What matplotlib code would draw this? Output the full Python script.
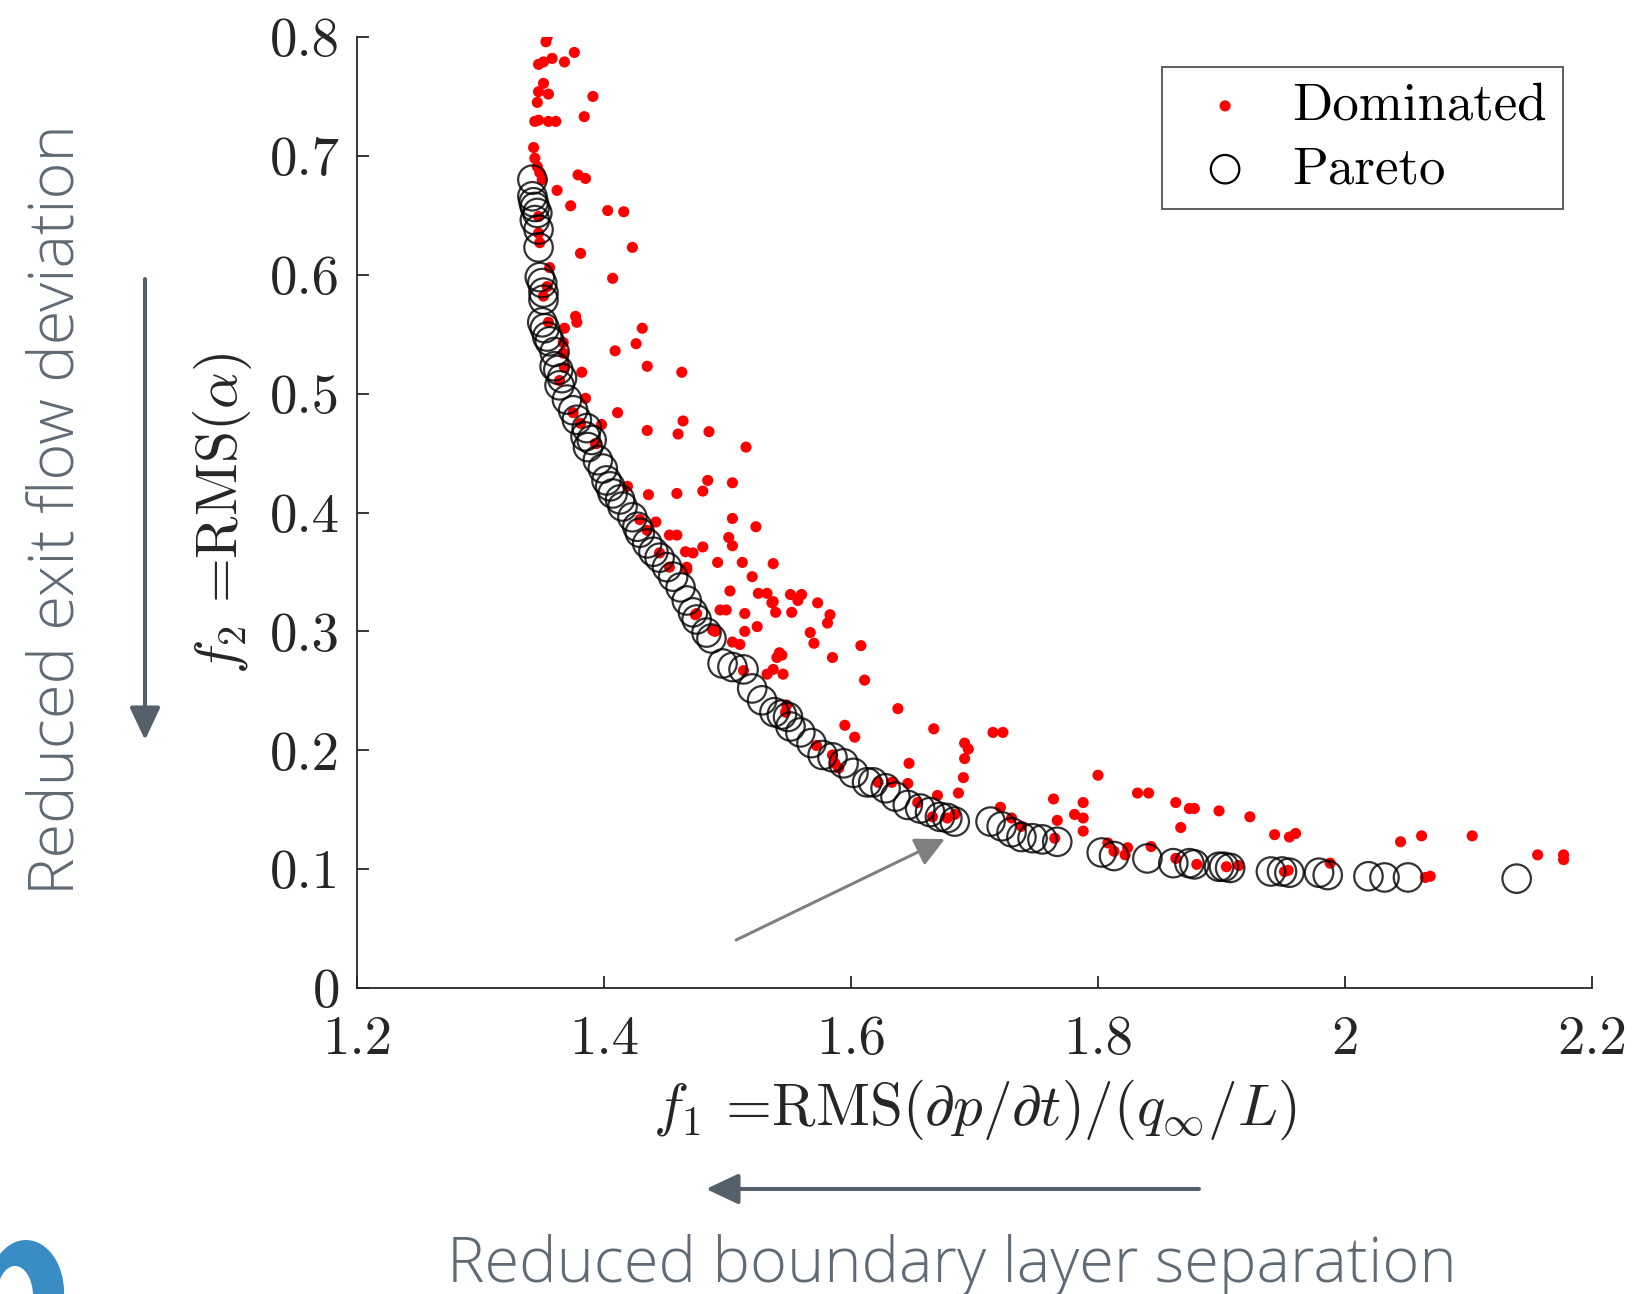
import matplotlib
matplotlib.use("Agg")
import matplotlib.pyplot as plt
from matplotlib.patches import Ellipse, FancyArrowPatch
from matplotlib.transforms import IdentityTransform

plt.rcParams['font.family'] = 'serif'
plt.rcParams['font.serif'] = ['cmr10']
plt.rcParams['mathtext.fontset'] = 'cm'
plt.rcParams['axes.formatter.use_mathtext'] = True
plt.rcParams['axes.unicode_minus'] = False

# ---------------- data ----------------
pareto_f1 = [1.342, 1.342, 1.343, 1.344, 1.346, 1.344, 1.347, 1.347, 1.348, 1.350, 1.351,
             1.351, 1.350, 1.352, 1.354, 1.356, 1.360, 1.360, 1.363, 1.366, 1.364, 1.370, 1.375,
             1.378, 1.386, 1.385, 1.390, 1.387, 1.395, 1.399, 1.402, 1.405, 1.407, 1.413, 1.415,
             1.423, 1.427, 1.429, 1.435, 1.440, 1.445, 1.451, 1.456, 1.462, 1.467, 1.472, 1.475,
             1.483, 1.487, 1.496, 1.504, 1.513, 1.520, 1.528, 1.538, 1.544, 1.549, 1.551, 1.559,
             1.568, 1.577, 1.585, 1.594, 1.602, 1.613, 1.618, 1.628, 1.636, 1.646, 1.656, 1.664,
             1.672, 1.678, 1.684,
             1.713, 1.722, 1.730, 1.738, 1.747, 1.755, 1.767,
             1.803, 1.813, 1.840, 1.861, 1.874, 1.878, 1.898, 1.902, 1.907, 1.940, 1.949, 1.955,
             1.979, 1.986, 2.019, 2.032, 2.051, 2.139]
pareto_f2 = [0.680, 0.666, 0.661, 0.657, 0.652, 0.646, 0.638, 0.623, 0.598, 0.593, 0.585,
             0.579, 0.560, 0.555, 0.548, 0.544, 0.535, 0.523, 0.520, 0.513, 0.507, 0.495, 0.486,
             0.478, 0.471, 0.464, 0.461, 0.455, 0.444, 0.437, 0.427, 0.422, 0.416, 0.411, 0.405,
             0.396, 0.388, 0.383, 0.374, 0.367, 0.362, 0.354, 0.346, 0.337, 0.326, 0.316, 0.310,
             0.299, 0.294, 0.273, 0.270, 0.268, 0.252, 0.242, 0.232, 0.230, 0.228, 0.220, 0.215,
             0.206, 0.196, 0.194, 0.189, 0.181, 0.173, 0.173, 0.168, 0.161, 0.154, 0.151, 0.148,
             0.144, 0.143, 0.140,
             0.140, 0.136, 0.131, 0.127, 0.126, 0.125, 0.123,
             0.114, 0.111, 0.109, 0.105, 0.105, 0.104, 0.102, 0.102, 0.101, 0.098, 0.098, 0.097,
             0.097, 0.095, 0.094, 0.093, 0.093, 0.092]

dominated_f1 = [1.354, 1.353, 1.376, 1.358, 1.347, 1.351, 1.368, 1.351, 1.347, 1.355, 1.391,
                1.346, 1.384, 1.344, 1.347, 1.355, 1.361, 1.343, 1.344, 1.346, 1.379, 1.385,
                1.362, 1.350, 1.373, 1.403, 1.416, 1.423, 1.381, 1.407, 1.356, 1.354, 1.351,
                1.347, 1.347, 1.348, 1.348,
                1.377, 1.378, 1.355, 1.368, 1.431, 1.426, 1.409, 1.435, 1.463, 1.382, 1.367,
                1.385, 1.411, 1.398, 1.435, 1.464, 1.460, 1.485, 1.515, 1.394, 1.484, 1.504,
                1.436, 1.459, 1.480, 1.419, 1.442, 1.504, 1.523, 1.453, 1.459, 1.501, 1.504,
                1.480, 1.472, 1.466, 1.492, 1.512, 1.537, 1.520, 1.502, 1.525, 1.532, 1.537,
                1.467, 1.474, 1.551, 1.560,
                1.367, 1.368, 1.364, 1.375, 1.381, 1.393, 1.429, 1.435, 1.445, 1.453, 1.467,
                1.475, 1.488,
                1.494, 1.499, 1.514, 1.524, 1.514, 1.490, 1.536, 1.539, 1.552, 1.557, 1.573,
                1.583, 1.581, 1.567, 1.570, 1.585, 1.608, 1.611, 1.542, 1.540, 1.544, 1.537,
                1.545, 1.532, 1.513, 1.504, 1.510, 1.548, 1.547, 1.638, 1.595, 1.603, 1.572,
                1.585, 1.587, 1.590, 1.667, 1.715, 1.723, 1.692, 1.695, 1.692, 1.647, 1.691,
                1.646, 1.633, 1.687, 1.670, 1.654, 1.666, 1.678, 1.684, 1.721, 1.730, 1.738,
                1.764, 1.767, 1.765, 1.781, 1.788, 1.788, 1.788, 1.622,
                1.800, 1.808, 1.813, 1.824, 1.822, 1.832, 1.841, 1.843, 1.863, 1.874, 1.878,
                1.867, 1.863, 1.880, 1.898, 1.904, 1.914, 1.923, 1.943, 1.955, 1.960, 1.951,
                1.954, 1.988, 2.045, 2.062, 2.065, 2.069, 2.103, 2.156, 2.177, 2.177]
dominated_f2 = [0.800, 0.796, 0.787, 0.782, 0.777, 0.779, 0.779, 0.761, 0.754, 0.752, 0.750,
                0.745, 0.733, 0.729, 0.730, 0.729, 0.729, 0.707, 0.698, 0.691, 0.684, 0.681,
                0.671, 0.680, 0.658, 0.654, 0.653, 0.623, 0.618, 0.597, 0.606, 0.590, 0.582,
                0.649, 0.635, 0.627, 0.686,
                0.565, 0.560, 0.560, 0.555, 0.555, 0.542, 0.536, 0.523, 0.518, 0.518, 0.534,
                0.496, 0.484, 0.474, 0.469, 0.477, 0.466, 0.468, 0.455, 0.458, 0.427, 0.425,
                0.415, 0.416, 0.418, 0.422, 0.392, 0.395, 0.388, 0.381, 0.381, 0.379, 0.372,
                0.371, 0.366, 0.367, 0.358, 0.358, 0.357, 0.346, 0.334, 0.332, 0.332, 0.325,
                0.354, 0.314, 0.331, 0.331,
                0.543, 0.522, 0.511, 0.484, 0.475, 0.458, 0.394, 0.385, 0.366, 0.354, 0.352,
                0.315, 0.301,
                0.318, 0.318, 0.315, 0.304, 0.300, 0.300, 0.324, 0.316, 0.316, 0.326, 0.324,
                0.314, 0.307, 0.299, 0.290, 0.278, 0.288, 0.259, 0.282, 0.278, 0.280, 0.268,
                0.264, 0.264, 0.267, 0.291, 0.289, 0.238, 0.232, 0.235, 0.221, 0.211, 0.204,
                0.196, 0.189, 0.185, 0.218, 0.215, 0.215, 0.206, 0.201, 0.193, 0.189, 0.177,
                0.172, 0.173, 0.164, 0.162, 0.156, 0.144, 0.143, 0.146, 0.152, 0.143, 0.136,
                0.159, 0.141, 0.126, 0.146, 0.156, 0.143, 0.132, 0.173,
                0.179, 0.122, 0.115, 0.118, 0.112, 0.164, 0.164, 0.119, 0.156, 0.151, 0.151,
                0.135, 0.109, 0.104, 0.149, 0.102, 0.103, 0.144, 0.129, 0.127, 0.130, 0.098,
                0.099, 0.105, 0.123, 0.128, 0.093, 0.094, 0.128, 0.112, 0.112, 0.108]

xticks = [1.2, 1.4, 1.6, 1.8, 2.0, 2.2]
xtick_labels = ["1.2", "1.4", "1.6", "1.8", "2", "2.2"]
yticks = [0, 0.1, 0.2, 0.3, 0.4, 0.5, 0.6, 0.7, 0.8]
ytick_labels = ["0", "0.1", "0.2", "0.3", "0.4", "0.5", "0.6", "0.7", "0.8"]

# ---------------- figure ----------------
W, H = 1638, 1294
fig = plt.figure(figsize=(W / 100, H / 100), dpi=100)
ax = fig.add_axes([357 / W, 1 - 988 / H, (1592 - 357) / W, (988 - 37) / H])

FS = 38
spine_c = '#262626'
ax.scatter(dominated_f1, dominated_f2, s=64, c='#ff0000', edgecolors='none',
           label='Dominated', zorder=2)
ax.scatter(pareto_f1, pareto_f2, s=420, facecolors='none', edgecolors='black',
           linewidths=1.6, alpha=0.8, label='Pareto', zorder=3)

ax.set_xlim(1.2, 2.2)
ax.set_ylim(0, 0.8)
ax.set_xticks(xticks)
ax.set_xticklabels(xtick_labels)
ax.set_yticks(yticks)
ax.set_yticklabels(ytick_labels)
for s in ['top', 'right']:
    ax.spines[s].set_visible(False)
for s in ['left', 'bottom']:
    ax.spines[s].set_color(spine_c)
    ax.spines[s].set_linewidth(1.3)
ax.tick_params(direction='in', length=8.5, width=1.3, color=spine_c,
               labelsize=39.5, labelcolor='#262626')
ax.tick_params(axis='x', pad=20)
ax.tick_params(axis='y', pad=12)

# arrow inside axes
ax.annotate('', xy=(1.676, 0.1253), xytext=(1.507, 0.0404),
            arrowprops=dict(arrowstyle='-|>,head_length=0.9,head_width=0.45',
                            mutation_scale=20, lw=2.2, color='#808080',
                            shrinkA=0, shrinkB=0), zorder=4)

leg = ax.legend(loc='upper right', bbox_to_anchor=(0.9765, 0.9685), fontsize=FS,
                frameon=True, fancybox=False, borderpad=0.3, labelspacing=0.31,
                handlelength=1.8, handletextpad=0.38, borderaxespad=0,
                scatterpoints=1)
leg.get_frame().set_edgecolor('#262626')
leg.get_frame().set_linewidth(1.3)
for lh in leg.legend_handles:
    lh.set_alpha(1)

# axis labels
fig.text(975 / W, 1 - 1110 / H, r"$f_1$ =RMS$(\partial p/\partial t)/(q_\infty/L)$",
         ha='center', va='center', fontsize=42.5, color='#262626')
fig.text(223 / W, 1 - 513 / H, r"$f_2$ =RMS$(\alpha)$", rotation=90,
         ha='center', va='center', fontsize=41.5, color='#262626')

# explanatory annotations
gtxt = '#5f6a75'
garr = '#56606b'
fig.text(57 / W, 1 - 510 / H, "Reduced exit flow deviation", rotation=90,
         ha='center', va='center', fontsize=45.5, color=gtxt,
         family=['Open Sans', 'DejaVu Sans'], weight='light')
fig.text(952 / W, (H - 1282) / H, "Reduced boundary layer separation",
         ha='center', va='baseline', fontsize=45.5, color=gtxt,
         family=['Open Sans', 'DejaVu Sans'], weight='light')

arrowprops = dict(arrowstyle='-|>,head_length=1.0,head_width=0.47', mutation_scale=20,
                  lw=2.9, color=garr, shrinkA=0, shrinkB=0)
fig.add_artist(FancyArrowPatch((145, H - 279), (145, H - 740),
                               transform=IdentityTransform(), **arrowprops))
fig.add_artist(FancyArrowPatch((1199, H - 1189), (706, H - 1189),
                               transform=IdentityTransform(), **arrowprops))

# partial blue logo shape in the corner
blue = '#3a8cc4'
fig.add_artist(Ellipse((26, 2), 76, 104, transform=IdentityTransform(),
                       facecolor=blue, edgecolor='none'))
fig.add_artist(Ellipse((15, -2), 36, 60, transform=IdentityTransform(),
                       facecolor='white', edgecolor='none'))

fig.savefig('out.png', dpi=100)
